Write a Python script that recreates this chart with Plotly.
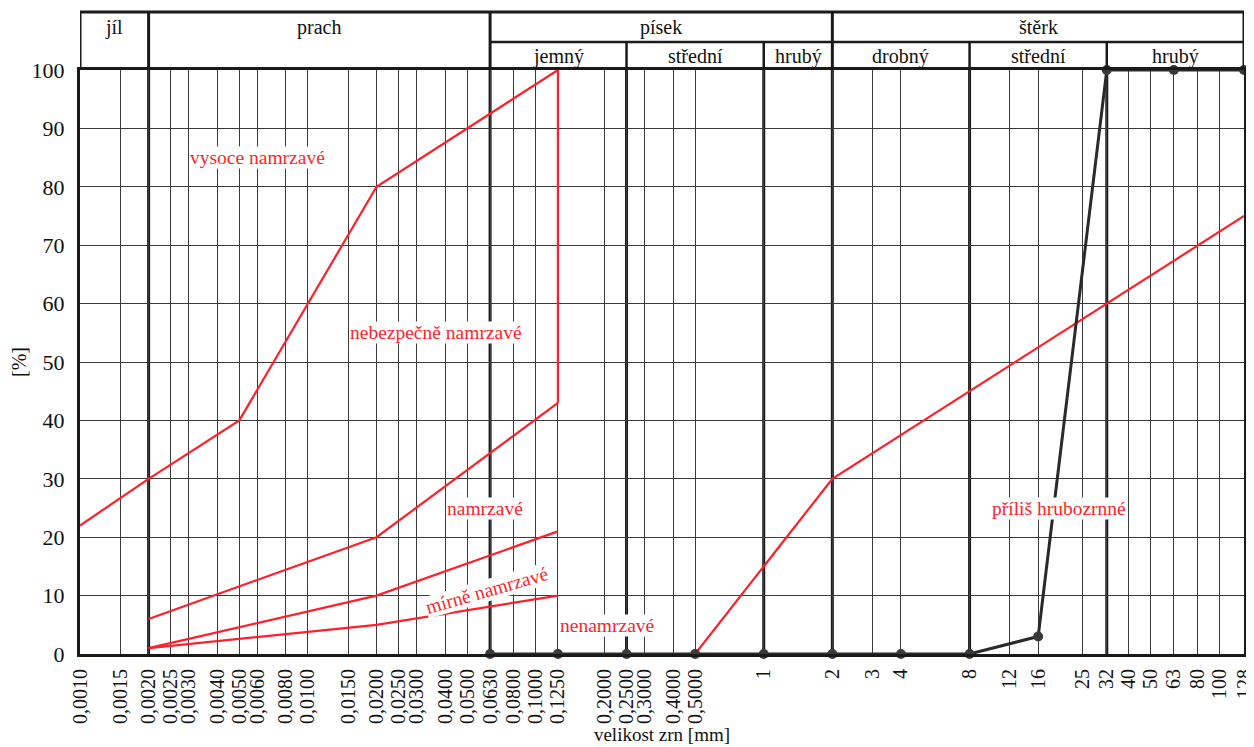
import numpy as np
import plotly.graph_objects as go

# ---- axis ticks ----
tick_vals = [0.001, 0.0015, 0.002, 0.0025, 0.003, 0.004, 0.005, 0.006, 0.008, 0.01,
             0.015, 0.02, 0.025, 0.03, 0.04, 0.05, 0.063, 0.08, 0.1, 0.125,
             0.2, 0.25, 0.3, 0.4, 0.5, 1, 2, 3, 4, 8, 12, 16, 25, 32, 40, 50, 63, 80, 100, 128]
tick_text = ["0,0010", "0,0015", "0,0020", "0,0025", "0,0030", "0,0040", "0,0050", "0,0060",
             "0,0080", "0,0100", "0,0150", "0,0200", "0,0250", "0,0300", "0,0400", "0,0500",
             "0,0630", "0,0800", "0,1000", "0,1250", "0,2000", "0,2500", "0,3000", "0,4000",
             "0,5000", "1", "2", "3", "4", "8", "12", "16", "25", "32", "40", "50", "63", "80",
             "100", "128"]

# ---- header categories ----
main_bounds = [0.001, 0.002, 0.063, 2, 128]
main_names = ["jíl", "prach", "písek", "štěrk"]
sand_bounds = [0.063, 0.25, 1, 2]
sand_names = ["jemný", "střední", "hrubý"]
gravel_bounds = [2, 8, 32, 128]
gravel_names = ["drobný", "střední", "hrubý"]
thick_lines = [0.002, 0.063, 0.25, 1, 2, 8, 32]

# ---- frost susceptibility boundaries (red) ----
vysoce_x = [0.001, 0.002, 0.005, 0.02, 0.125, 0.125]
vysoce_y = [22, 30, 40, 80, 100, 43]
nebezp_x = [0.002, 0.02, 0.125]
nebezp_y = [6, 20, 43]
namrz_x = [0.002, 0.02, 0.125]
namrz_y = [1, 10, 21]
mirne_x = [0.002, 0.02, 0.125]
mirne_y = [1, 5, 10]
nenam_x = [0.5, 2, 128]
nenam_y = [0, 30, 75]

# ---- measured grading curve (black) ----
curve_x = [0.063, 0.125, 0.25, 0.5, 1, 2, 4, 8, 16, 32, 63, 128]
curve_y = [0, 0, 0, 0, 0, 0, 0, 0, 3, 100, 100, 100]

# ---- zone labels ----
label_text = ["vysoce namrzavé", "nebezpečně namrzavé", "namrzavé", "mírně namrzavé",
              "nenamrzavé", "příliš hrubozrnné"]
label_x = [0.0060, 0.0364, 0.060, 0.061, 0.205, 19.7]
label_y = [85, 55, 25, 10.8, 4.8, 25]
label_angle = [0, 0, 0, -16, 0, 0]

FONT = "Liberation Serif"
RED = "#ff1f2a"

fig = go.Figure()
for xs, ys in [(vysoce_x, vysoce_y), (nebezp_x, nebezp_y), (namrz_x, namrz_y),
               (mirne_x, mirne_y), (nenam_x, nenam_y)]:
    fig.add_trace(go.Scatter(x=xs, y=ys, mode="lines", line=dict(color=RED, width=2.2),
                             showlegend=False, hoverinfo="skip", cliponaxis=False))
fig.add_trace(go.Scatter(x=curve_x, y=curve_y, mode="lines+markers",
                         line=dict(color="#2a2a2a", width=3),
                         marker=dict(color="#3a3a3a", size=10),
                         showlegend=False, cliponaxis=False))

shapes = []
for xv in thick_lines:
    shapes.append(dict(type="line", xref="x", yref="paper", x0=xv, x1=xv, y0=0, y1=1,
                       line=dict(color="#1a1a1a", width=3), layer="between"))

H_TOP = 1.0993
H_MID = 1.048
shapes.append(dict(type="line", xref="x", yref="paper", x0=0.001, x1=128, y0=H_TOP, y1=H_TOP,
                   line=dict(color="#1a1a1a", width=3)))
for xv in main_bounds:
    shapes.append(dict(type="line", xref="x", yref="paper", x0=xv, x1=xv, y0=1, y1=H_TOP,
                       line=dict(color="#1a1a1a", width=3)))
shapes.append(dict(type="line", xref="x", yref="paper", x0=0.063, x1=128, y0=H_MID, y1=H_MID,
                   line=dict(color="#1a1a1a", width=2.5)))
for xv in [0.25, 1, 8, 32]:
    shapes.append(dict(type="line", xref="x", yref="paper", x0=xv, x1=xv, y0=1, y1=H_MID,
                       line=dict(color="#1a1a1a", width=2.5)))

annotations = []
for i, name in enumerate(main_names):
    xc = (np.log10(main_bounds[i]) + np.log10(main_bounds[i + 1])) / 2
    annotations.append(dict(x=xc, y=1.073, xref="x", yref="paper", text=name, showarrow=False,
                            xanchor="center", yanchor="middle",
                            font=dict(family=FONT, size=20, color="#111")))
for bounds, names in [(sand_bounds, sand_names), (gravel_bounds, gravel_names)]:
    for i, name in enumerate(names):
        xc = (np.log10(bounds[i]) + np.log10(bounds[i + 1])) / 2
        annotations.append(dict(x=xc, y=1.0235, xref="x", yref="paper", text=name,
                                xanchor="center", yanchor="middle",
                                showarrow=False, font=dict(family=FONT, size=20, color="#111")))
for t, xv, yv, ang in zip(label_text, label_x, label_y, label_angle):
    annotations.append(dict(x=np.log10(xv), y=yv, xref="x", yref="y", text=t, showarrow=False,
                            xanchor="center", yanchor="middle",
                            textangle=ang, bgcolor="white", borderpad=0,
                            font=dict(family=FONT, size=19.5, color=RED)))

# page body has an 8px default margin: offset the figure so the plot lands where it should
fig.update_layout(
    width=1246, height=739,
    margin=dict(l=72, r=10, t=62, b=93),
    paper_bgcolor="white", plot_bgcolor="white",
    font=dict(family=FONT, color="#111"),
    shapes=shapes, annotations=annotations,
    xaxis=dict(type="log", range=[np.log10(0.001), np.log10(128)],
               tickmode="array", tickvals=tick_vals, ticktext=tick_text,
               tickangle=-90, tickfont=dict(family=FONT, size=20, color="#111"),
               ticklabeloverflow="allow",
               showgrid=True, gridcolor="#3a3a3a", gridwidth=1,
               showline=True, linecolor="#1a1a1a", linewidth=3, mirror=True,
               zeroline=False, ticks="", ticklabelstandoff=4, automargin=False,
               title=dict(text="velikost zrn [mm]", font=dict(family=FONT, size=19, color="#111"),
                          standoff=4)),
    yaxis=dict(range=[0, 100], tickmode="array", tickvals=list(range(0, 101, 10)),
               tickfont=dict(family=FONT, size=22, color="#111"),
               showgrid=True, gridcolor="#3a3a3a", gridwidth=1,
               showline=True, linecolor="#1a1a1a", linewidth=3, mirror=True,
               zeroline=False, ticks="", ticklabelstandoff=8, automargin=False,
               title=dict(text="[%]", font=dict(family=FONT, size=20, color="#111"),
                          standoff=10)),
)

fig.write_html("out.html")
